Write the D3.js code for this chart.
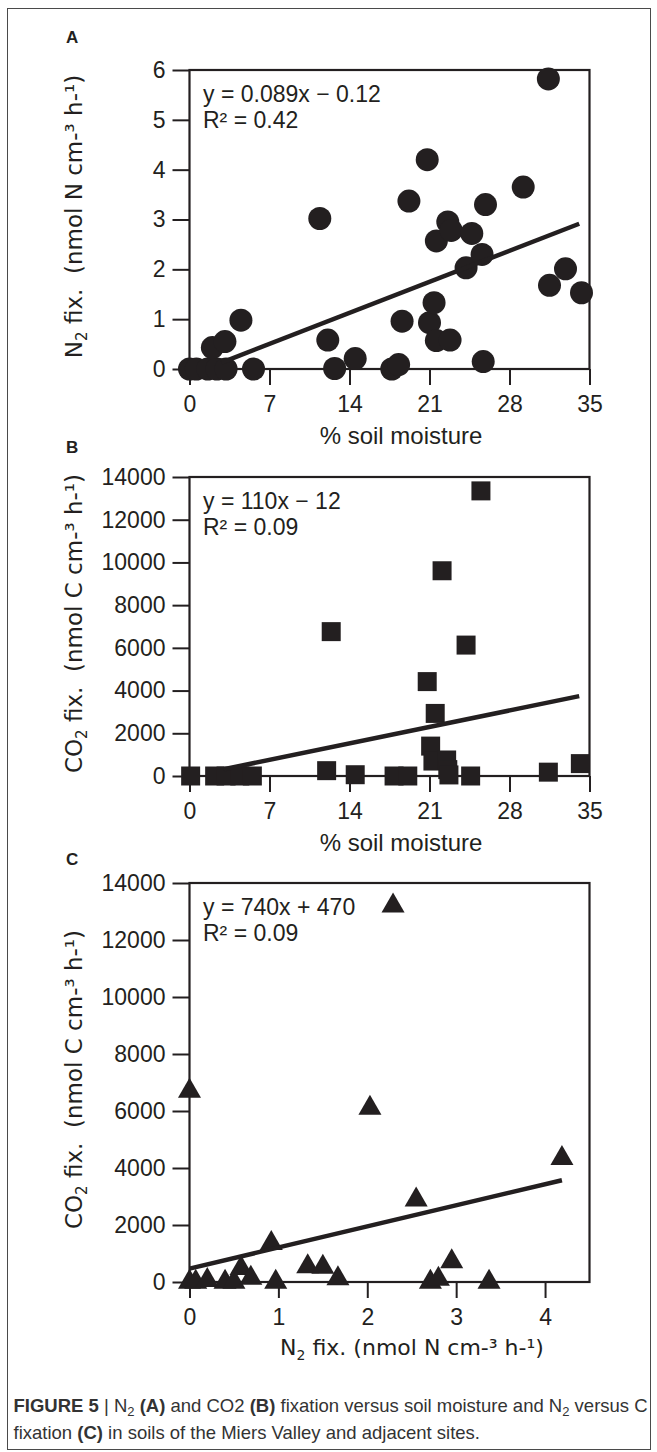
<!DOCTYPE html>
<html><head><meta charset="utf-8">
<script src="https://cdn.jsdelivr.net/npm/d3@7"></script>
<style>body{margin:0;background:#fff} svg{display:block} text{white-space:pre}</style>
</head><body>
<script>
// ---------- data ----------
// Panel A: % soil moisture vs N2 fixation
const moistureA = [0, 0.6, 1.6, 2.4, 3.2, 5.6, 2.0, 3.1, 4.5, 11.4, 12.1, 12.7, 14.5, 17.7, 18.3, 18.6, 19.2, 20.8, 21.0, 21.4, 21.6, 21.6, 22.6, 22.9, 22.8, 24.2, 24.7, 25.6, 25.7, 25.9, 29.2, 31.4, 31.5, 32.9, 34.3];
const n2A       = [0, 0, 0, 0, 0, 0, 0.43, 0.55, 0.98, 3.02, 0.58, 0.01, 0.21, 0, 0.09, 0.96, 3.37, 4.2, 0.93, 1.33, 0.57, 2.57, 2.95, 2.78, 0.58, 2.03, 2.72, 2.3, 0.15, 3.3, 3.65, 5.82, 1.68, 2.01, 1.53];
// Panel B: % soil moisture vs CO2 fixation
const moistureB = [0.1, 2.2, 3.2, 4.4, 5.5, 12.0, 12.4, 14.5, 17.9, 19.1, 20.8, 21.1, 21.3, 21.5, 22.5, 22.1, 22.6, 22.7, 24.2, 24.6, 25.5, 31.4, 34.2];
const co2B      = [0, 0, 0, 0, 0, 250, 6760, 60, 0, 0, 4420, 1400, 700, 2930, 750, 9610, 300, 50, 6130, 0, 13350, 180, 580];
// Panel C: N2 fixation vs CO2 fixation
const n2C  = [0, 0.07, 0.2, 0.4, 0.5, 0.58, 0.69, 0.92, 0.97, 1.33, 1.5, 1.67, 2.03, 2.29, 2.55, 2.71, 2.8, 2.95, 3.37, 4.19, 0];
const co2C = [0, 0, 60, 0, 0, 480, 140, 1360, 0, 540, 520, 120, 6100, 13200, 2880, 0, 100, 720, 0, 4340, 6700];

const ticksMoisture = [0, 7, 14, 21, 28, 35];
const ticksN2 = [0, 1, 2, 3, 4, 5, 6];
const ticksCO2 = [0, 2000, 4000, 6000, 8000, 10000, 12000, 14000];
const ticksN2C = [0, 1, 2, 3, 4];

const fitA = [0.089, -0.12];   // slope, intercept
const fitB = [110, -12];
const fitC = [740, 470];
const fitRangeA = [2.8, 34.1];
const fitRangeB = [3.0, 34.1];
const fitRangeC = [0, 4.19];
const eqTextA = ["y = 0.089x − 0.12", "R² = 0.42"];
const eqTextB = ["y = 110x − 12", "R² = 0.09"];
const eqTextC = ["y = 740x + 470", "R² = 0.09"];

const captionLine1 = [["FIGURE 5", "b"], [" ", "n"], ["|", "n"], [" N", "n"], ["2", "sub"], [" ", "n"], ["(A)", "b"], [" and CO2 ", "n"], ["(B)", "b"], [" fixation versus soil moisture and N", "n"], ["2", "sub"], [" versus C", "n"]];
const captionLine2 = [["fixation ", "n"], ["(C)", "b"], [" in soils of the Miers Valley and adjacent sites.", "n"]];

// ---------- layout ----------
const W = 657, H = 1452;
const INK = "#231f20";
const SANS = "'Liberation Sans', Arial, Helvetica, sans-serif";
const DV = "'DejaVu Sans', Verdana, sans-serif";
const boxL = 189.5, boxR = 589.5;

const svg = d3.select("body").append("svg").attr("width", W).attr("height", H);
svg.append("rect").attr("width", W).attr("height", H).attr("fill", "#fff");
svg.append("rect").attr("x", 7.5).attr("y", 8.5).attr("width", 643).attr("height", 1441)
  .attr("fill", "none").attr("stroke", "#4a4a4a").attr("stroke-width", 1);

const panels = [
  {letter: "A", letterY: 43, top: 70, bottom: 369, xDom: [0, 35], yDom: [0, 6], xT: ticksMoisture, yT: ticksN2,
   xs: moistureA, ys: n2A, shape: d3.symbolCircle, size: Math.PI * 11.5 * 11.5, fit: fitA, fr: fitRangeA, eq: eqTextA,
   yLab: ["N", "2", " fix.  (nmol N cm-³ h-¹)"], xLab: "moist"},
  {letter: "B", letterY: 453, top: 477, bottom: 776, xDom: [0, 35], yDom: [0, 14000], xT: ticksMoisture, yT: ticksCO2,
   xs: moistureB, ys: co2B, shape: d3.symbolSquare, size: 19 * 19, fit: fitB, fr: fitRangeB, eq: eqTextB,
   yLab: ["CO", "2", " fix.  (nmol C cm-³ h-¹)"], xLab: "moist"},
  {letter: "C", letterY: 865, top: 883, bottom: 1282, xDom: [0, 4.5], yDom: [0, 14000], xT: ticksN2C, yT: ticksCO2,
   xs: n2C, ys: co2C, shape: d3.symbolTriangle, size: 230, fit: fitC, fr: fitRangeC, eq: eqTextC,
   yLab: ["CO", "2", " fix.  (nmol C cm-³ h-¹)"], xLab: "n2"}
];

panels.forEach(p => {
  const x = d3.scaleLinear().domain(p.xDom).range([boxL, boxR]);
  const y = d3.scaleLinear().domain(p.yDom).range([p.bottom, p.top]);
  const g = svg.append("g");

  // panel letter
  g.append("text").attr("x", 66).attr("y", p.letterY).text(p.letter)
    .attr("font-family", SANS).attr("font-weight", "bold").attr("font-size", 17).attr("fill", INK);

  // axes
  const ya = g.append("g").attr("transform", `translate(${boxL},0)`)
    .call(d3.axisLeft(y).tickValues(p.yT).tickSize(17).tickPadding(7).tickFormat(d3.format("d")));
  const xa = g.append("g").attr("transform", `translate(0,${p.bottom})`)
    .call(d3.axisBottom(x).tickValues(p.xT).tickSize(16).tickFormat(d3.format("d")));
  [ya, xa].forEach(a => {
    a.select(".domain").remove();
    a.selectAll("line").attr("stroke", INK).attr("stroke-width", 2);
    a.selectAll("text").attr("font-family", SANS).attr("font-size", 23).attr("fill", INK);
  });
  xa.selectAll("text").attr("y", 43).attr("dy", null);

  // box
  g.append("rect").attr("x", boxL).attr("y", p.top).attr("width", boxR - boxL).attr("height", p.bottom - p.top)
    .attr("fill", "none").attr("stroke", INK).attr("stroke-width", 2.2);

  // points
  g.append("g").selectAll("path").data(p.xs.map((v, i) => [v, p.ys[i]])).join("path")
    .attr("transform", d => `translate(${x(d[0])},${y(d[1])})`)
    .attr("d", d3.symbol().type(p.shape).size(p.size))
    .attr("fill", INK);

  // regression line
  const line = d3.line().x(d => x(d)).y(d => y(p.fit[0] * d + p.fit[1]));
  g.append("path").attr("d", line(p.fr)).attr("fill", "none").attr("stroke", INK).attr("stroke-width", 4.5);

  // equation (two lines)
  p.eq.forEach((t, i) => {
    g.append("text").attr("x", 203).attr("y", p.top + 32 + i * 26).text(t)
      .attr("font-family", SANS).attr("font-size", 23).attr("fill", INK);
  });

  // y label
  const cy = (p.top + p.bottom) / 2 - 3;
  const yl = g.append("text").attr("transform", `translate(82,${cy}) rotate(-90)`)
    .attr("text-anchor", "middle").attr("font-family", DV).attr("font-size", 23).attr("fill", INK);
  yl.append("tspan").text(p.yLab[0]);
  yl.append("tspan").attr("dy", 5).attr("font-size", 15).text(p.yLab[1]);
  yl.append("tspan").attr("dy", -5).text(p.yLab[2]);

  // x label
  if (p.xLab === "moist") {
    g.append("text").attr("x", 401).attr("y", p.bottom + 75).attr("text-anchor", "middle")
      .attr("font-family", SANS).attr("font-size", 24).attr("fill", INK).text("% soil moisture");
  } else {
    const xl = g.append("text").attr("x", 412).attr("y", p.bottom + 73).attr("text-anchor", "middle")
      .attr("font-family", DV).attr("font-size", 22).attr("fill", INK);
    xl.append("tspan").text("N");
    xl.append("tspan").attr("dy", 5).attr("font-size", 14).text("2");
    xl.append("tspan").attr("dy", -5).text(" fix. (nmol N cm-³ h-¹)");
  }
});

// caption
function caption(parts, yb) {
  const t = svg.append("text").attr("x", 13.5).attr("y", yb)
    .attr("font-family", SANS).attr("font-size", 18.5).attr("fill", "#333");
  let shifted = false;
  parts.forEach(([s, k]) => {
    const ts = t.append("tspan").text(s);
    if (k === "b") ts.attr("font-weight", "bold");
    if (k === "sub") { ts.attr("dy", 4).attr("font-size", 13); shifted = true; }
    else if (shifted) { ts.attr("dy", -4); shifted = false; }
  });
}
caption(captionLine1, 1411.5);
caption(captionLine2, 1438.5);
</script>
</body></html>
